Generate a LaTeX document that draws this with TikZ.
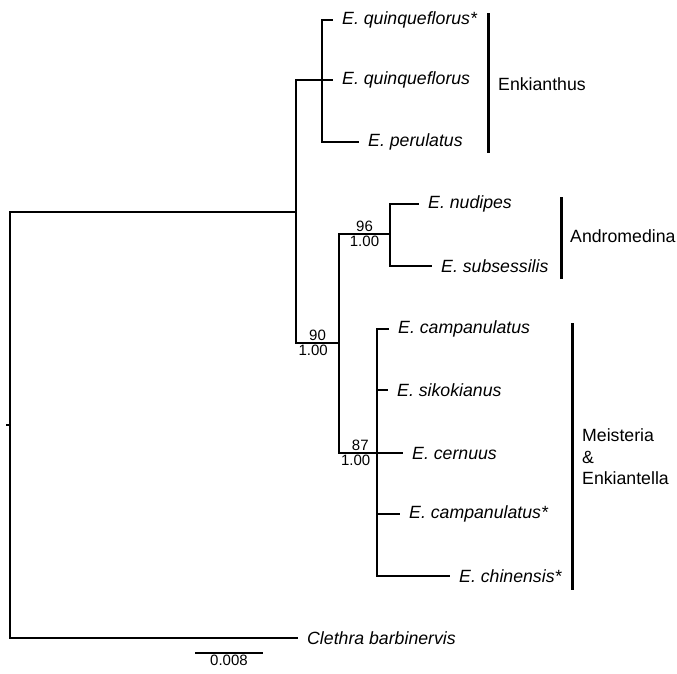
\documentclass[tikz,border=0pt]{standalone}
\usepackage{fontspec}
\setmainfont{Liberation Sans}
\usetikzlibrary{positioning}

\begin{document}
\begin{tikzpicture}[
  x=1pt, y=-1pt,
  branch/.style={line width=1.1pt},
  leaf/.style={anchor=west, inner xsep=9pt, inner ysep=0pt,
               font=\fontsize{17.7}{20}\selectfont\itshape},
  support/.style={inner sep=1.5pt, font=\fontsize{15}{17}\selectfont},
  cladebar/.style={line width=3pt},
  clade/.style={inner sep=0pt, align=left,
                font=\fontsize{17.7}{21.5}\selectfont}
]
  \useasboundingbox (0,0) rectangle (677,673);

  % Internal nodes
  \coordinate (stub)    at (6,425);
  \coordinate (root)    at (10,425);
  \coordinate (ingroup) at (296,212);
  \coordinate (enk)     at (322,80);
  \coordinate (n90)     at (339,343);
  \coordinate (n96)     at (390,234);
  \coordinate (n87)     at (377,453);

  % Leaves
  \node[leaf] (quin1)   at (333,20)  {E. quinqueflorus*};
  \node[leaf] (quin2)   at (333,80)  {E. quinqueflorus};
  \node[leaf] (peru)    at (359,142) {E. perulatus};
  \node[leaf] (nudi)    at (419,204) {E. nudipes};
  \node[leaf] (subs)    at (432,266) {E. subsessilis};
  \node[leaf] (camp1)   at (389,329) {E. campanulatus};
  \node[leaf] (siko)    at (388,390) {E. sikokianus};
  \node[leaf] (cern)    at (403,453) {E. cernuus};
  \node[leaf] (camp2)   at (400,514) {E. campanulatus*};
  \node[leaf] (chin)    at (450,576) {E. chinensis*};
  \node[leaf] (clethra) at (298,638) {Clethra barbinervis};

  % Branches
  \draw[branch] (stub) -- (root);
  \draw[branch] (root) |- (ingroup);
  \draw[branch] (root) |- (clethra.west);
  \draw[branch] (ingroup) |- (enk);
  \draw[branch] (ingroup) |- node[support,pos=0.75,above]{90}
                node[support,pos=0.7,below]{1.00} (n90);
  \draw[branch] (enk) |- (quin1.west);
  \draw[branch] (enk) -- (quin2.west);
  \draw[branch] (enk) |- (peru.west);
  \draw[branch] (n90) |- node[support,pos=0.75,above]{96}
                node[support,pos=0.75,below]{1.00} (n96);
  \draw[branch] (n90) |- node[support,pos=0.78,above]{87}
                node[support,pos=0.72,below]{1.00} (n87);
  \draw[branch] (n96) |- (nudi.west);
  \draw[branch] (n96) |- (subs.west);
  \draw[branch] (n87) |- (camp1.west);
  \draw[branch] (n87) |- (siko.west);
  \draw[branch] (n87) -- (cern.west);
  \draw[branch] (n87) |- (camp2.west);
  \draw[branch] (n87) |- (chin.west);

  % Clade bars
  \coordinate (enktop) at (488,13);
  \coordinate (enkbot) at (488,153);
  \coordinate (enkmid) at (488,84);
  \coordinate (andtop) at (561,197);
  \coordinate (andbot) at (561,279);
  \coordinate (andmid) at (561,236);
  \coordinate (meitop) at (572,323);
  \coordinate (meibot) at (572,590);
  \coordinate (meimid) at (572,457);
  \draw[cladebar] (enktop) -- (enkbot);
  \draw[cladebar] (andtop) -- (andbot);
  \draw[cladebar] (meitop) -- (meibot);
  \node[clade, right=10pt of enkmid] (enklab) {Enkianthus};
  \node[clade, right=9pt of andmid]  (andlab) {Andromedina};
  \node[clade, right=10pt of meimid] (meilab) {Meisteria\\\&\\Enkiantella};

  % Scale bar
  \coordinate (sbl) at (195,653);
  \coordinate (sbr) at (263,653);
  \draw[branch] (sbl) -- node[support,below]{0.008} (sbr);
\end{tikzpicture}
\end{document}
